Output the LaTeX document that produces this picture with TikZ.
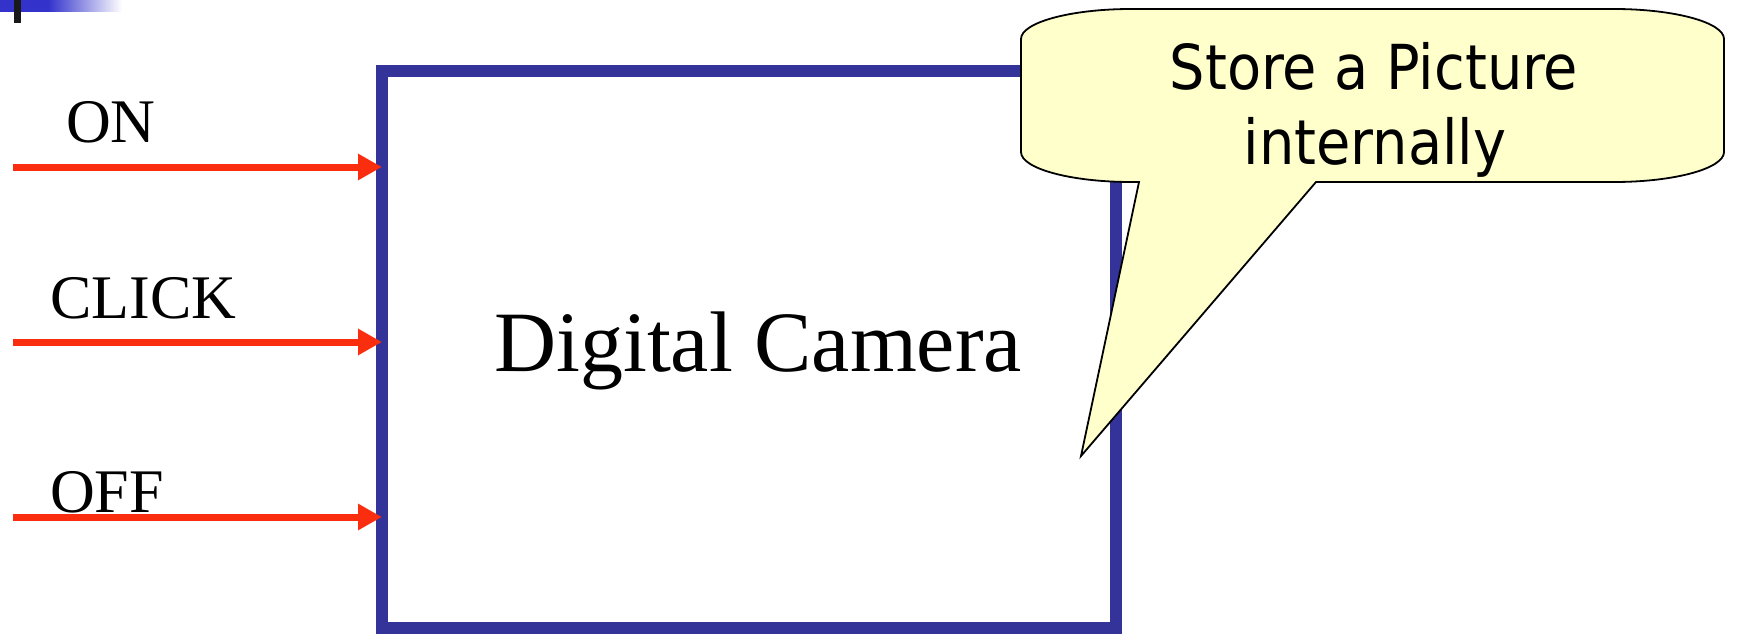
\documentclass[tikz,border=0pt]{standalone}
\usepackage{fontspec}
\setmainfont{Liberation Serif}
\newfontfamily\calloutfont{DejaVu Sans Condensed}
\usetikzlibrary{arrows.meta}
\definecolor{boxblue}{RGB}{51,51,153}
\definecolor{barblue}{RGB}{51,51,204}
\definecolor{arrred}{RGB}{250,45,15}
\definecolor{calloutfill}{RGB}{255,255,204}
\begin{document}
\begin{tikzpicture}[x=1pt,y=-1pt,
  inlbl/.style={font=\fontsize{62}{62}\selectfont, anchor=base west, inner sep=0pt},
  inarrow/.style={draw=arrred, line width=7pt, -{Triangle[length=24pt,width=25pt]}},
  camstyle/.style={draw=boxblue, line width=12pt, minimum width=734pt, minimum height=557pt, inner sep=0pt, outer sep=0pt},
  calltxt/.style={font=\calloutfont\fontsize{62}{62}\selectfont, anchor=base, inner sep=0pt},
  calloutshape/.style={fill=calloutfill, draw=black, line width=1.8pt}]
\useasboundingbox (0,0) rectangle (1737,634);
% top-left decoration
\fill[barblue] (0,0) rectangle (48,12);
\shade[left color=barblue, right color=white] (48,0) rectangle (122,12);
\fill[black!90] (14,0) rectangle (21,23);
% camera box
\node[camstyle] (cam) at (749,349.5) {};
\node[font=\fontsize{86}{86}\selectfont, anchor=base, inner sep=0pt] (camtxt) at (758,371) {Digital Camera};
% inputs
\coordinate (onS) at (13,167);
\coordinate (clickS) at (13,342);
\coordinate (offS) at (13,517);
\draw[inarrow] (onS) -- (onS -| cam.west);
\draw[inarrow] (clickS) -- (clickS -| cam.west);
\draw[inarrow] (offS) -- (offS -| cam.west);
\node[inlbl] (onL) at (66,142) {ON};
\node[inlbl] (clickL) at (50,318) {CLICK};
\node[inlbl] (offL) at (50,512) {OFF};
% callout
\path[calloutshape] (1021,39) -- (1021,152)
  .. controls (1021,168.5) and (1070.5,182) .. (1131,182)
  -- (1139,182) -- (1081,456) -- (1316,182) -- (1614,182)
  .. controls (1674.5,182) and (1724,168.5) .. (1724,152)
  -- (1724,39)
  .. controls (1724,22.5) and (1674.5,9) .. (1614,9)
  -- (1131,9)
  .. controls (1070.5,9) and (1021,22.5) .. (1021,39) -- cycle;
\node[calltxt] (co1) at (1374,89) {Store a Picture};
\node[calltxt] (co2) at (1375,164) {internally};
\end{tikzpicture}
\end{document}
